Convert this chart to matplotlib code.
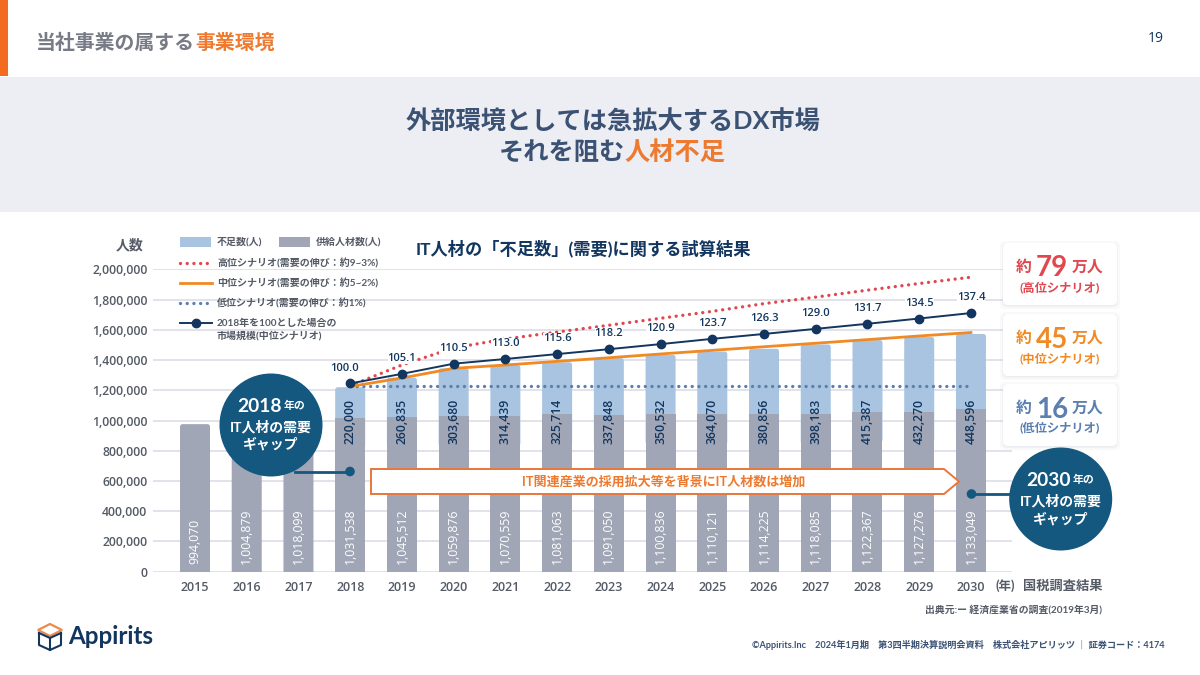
import matplotlib
matplotlib.use("Agg")
import matplotlib.pyplot as plt
from matplotlib.patches import Circle, FancyBboxPatch, Polygon, Rectangle

plt.rcParams['font.family'] = ['Lato', 'Noto Sans CJK JP']
NUM_FONT = ['Open Sans', 'DejaVu Sans']

# data
years = list(range(2015, 2031))
supply_labels = ["994,070", "1,004,879", "1,018,099", "1,031,538", "1,045,512", "1,059,876", "1,070,559", "1,081,063",
                 "1,091,050", "1,100,836", "1,110,121", "1,114,225", "1,118,085", "1,122,367", "1,127,276", "1,133,049"]
shortage_labels = ["220,000", "260,835", "303,680", "314,439", "325,714", "337,848", "350,532", "364,070",
                   "380,856", "398,183", "415,387", "432,270", "448,596"]
# bar heights as they are drawn in the picture (they sit a bit under the printed numbers)
supply_bar = [976000, 985000, 998000, 1017000, 1025000, 1030000, 1032000, 1041000,
              1038000, 1041000, 1041000, 1043000, 1043000, 1056000, 1059000, 1076000]
shortage_bar = [203000, 258000, 315000, 335000, 344000, 374000, 393000, 415000,
                431000, 460000, 476000, 493000, 496000]
line_years = years[3:]
high = [1230000, 1367000, 1480000, 1539000, 1585000, 1630000, 1676000, 1722000, 1773000, 1816000, 1862000, 1906000, 1948000]
mid = [1225000, 1281000, 1345000, 1367000, 1391000, 1415000, 1440000, 1464000, 1488000, 1511000, 1535000, 1559000, 1582000]
low = [1228000, 1228000, 1228000, 1228000, 1228000, 1228000, 1228000, 1228000, 1228000, 1228000, 1228000, 1228000, 1228000]
market = [100.0, 105.1, 110.5, 113.0, 115.6, 118.2, 120.9, 123.7, 126.3, 129.0, 131.7, 134.5, 137.4]
y_ticks = [0, 200000, 400000, 600000, 800000, 1000000, 1200000, 1400000, 1600000, 1800000, 2000000]

NAVY = '#12365F'
SLATE = '#3B5275'
ORANGE = '#EE7A30'
LINE_ORANGE = '#F08A24'
RED = '#E0474F'
BLUE = '#5B7FB0'
GREY_BAR = '#A0A6B6'
BLUE_BAR = '#A8C4E0'
GRID = '#DFE1E8'
TEXT = '#555B66'
TEAL = '#14577F'
DOTS = (0, (0.01, 2.0))

W, H = 1200, 675
fig = plt.figure(figsize=(12, 6.75), dpi=100, facecolor='white')


def full_axes(z):
    a = fig.add_axes([0, 0, 1, 1], zorder=z)
    a.set_xlim(0, W)
    a.set_ylim(H, 0)
    a.axis('off')
    return a


bg = full_axes(0)
top = full_axes(5)


def chain(a, x, y, parts, ha='left', gap=0):
    # draw text pieces one after another, parts = (text, size, color, weight)
    r = fig.canvas.get_renderer()
    items = []
    total = gap * (len(parts) - 1)
    for s, size, color, weight in parts:
        t = a.text(0, y, s, fontsize=size, color=color, fontweight=weight, va='center_baseline', ha='left')
        w = t.get_window_extent(r).width
        items.append((t, w))
        total += w
    pos = x
    if ha == 'center':
        pos = x - total / 2
    for t, w in items:
        t.set_x(pos)
        pos += w + gap


def round_tops(bars, ax, z):
    # swap the square bars for ones with slightly rounded top corners
    for b in bars:
        x, y = b.get_xy()
        p = FancyBboxPatch((x, y - 200000), b.get_width(), b.get_height() + 200000,
                           boxstyle="round,pad=0,rounding_size=0.05", mutation_aspect=342000,
                           facecolor=b.get_facecolor(), edgecolor='none', zorder=z)
        ax.add_patch(p)
        b.remove()


# page furniture
bg.add_patch(Rectangle((0, 0), 8, 76, color='#F26B21', lw=0))
bg.add_patch(Rectangle((0, 77), W, 135, color='#EDEEF3', lw=0))
chain(bg, 36, 41, [("当社事業の属する", 14.3, '#777B85', 'bold'), ("事業環境", 14.3, ORANGE, 'bold')])
bg.text(1156, 38, "19", fontsize=10, color=NAVY, ha='center', va='center', family=NUM_FONT)
chain(bg, 613, 120, [("外部環境としては急拡大するDX市場", 18.2, SLATE, 'bold')], ha='center')
chain(bg, 612, 150, [("それを阻む", 18.2, SLATE, 'bold'), ("人材不足", 18.2, ORANGE, 'bold')], ha='center')
bg.text(583, 248, "IT人材の「不足数」(需要)に関する試算結果", fontsize=12.4, color=NAVY, fontweight='bold',
        ha='center', va='center')
bg.text(130, 245, "人数", fontsize=10, color=TEXT, fontweight='bold', ha='center', va='center')

# chart
x0, x1, y0, y1 = 153, 1012, 571.7, 269.3
ax = fig.add_axes([x0 / W, 1 - y0 / H, (x1 - x0) / W, (y0 - y1) / H], zorder=2)
ax.patch.set_alpha(0)
ax.set_xlim(2015 - 42 / 51.73, 2015 + (x1 - 195) / 51.73)
ax.set_ylim(0, 2000000)
grey_bars = ax.bar(years, supply_bar, width=0.58, color=GREY_BAR, zorder=2.2)
blue_bars = ax.bar(line_years, shortage_bar, width=0.58, bottom=supply_bar[3:], color=BLUE_BAR, zorder=2)
round_tops(blue_bars, ax, 2)
round_tops(list(grey_bars)[:3], ax, 2.2)
ax.plot(line_years, low, color=BLUE, lw=2.4, linestyle=DOTS, dash_capstyle='round', zorder=3)
ax.plot(line_years, high, color=RED, lw=2.4, linestyle=DOTS, dash_capstyle='round', zorder=3)
ax.plot(line_years, mid, color=LINE_ORANGE, lw=2.0, zorder=3)
ax.set_yticks(y_ticks)
ax.set_yticklabels([f"{v:,}" for v in y_ticks])
ax.set_xticks(years)
ax.tick_params(axis='both', length=0, labelcolor=TEXT)
ax.tick_params(axis='y', labelsize=8.8, pad=4)
ax.tick_params(axis='x', labelsize=9, pad=7)
for lab in ax.get_xticklabels() + ax.get_yticklabels():
    lab.set_family(NUM_FONT)
    lab.set_fontweight('semibold')
ax.grid(axis='y', color=GRID, lw=1.3, zorder=1)
ax.set_axisbelow(True)
for s in ax.spines.values():
    s.set_visible(False)

for x, s in zip(years, supply_labels):
    ax.text(x, 54000, s, rotation=90, color='white', fontsize=8.8, ha='center', va='bottom', zorder=4,
            family=NUM_FONT)
for x, s in zip(line_years, shortage_labels):
    ax.text(x, 845000, s, rotation=90, color=NAVY, fontsize=8.8, ha='center', va='bottom', zorder=4,
            family=NUM_FONT, fontweight='semibold')

# market size index, own scale
ax2 = ax.twinx()
ax2.set_ylim(0, 2000000 / 12450)
ax2.axis('off')
ax2.plot(line_years, market, color=NAVY, lw=1.4, marker='o', ms=6, zorder=5)
for x, v in zip(line_years, market):
    dx = -4 if x == 2018 else 0
    ax2.annotate(f"{v:.1f}", (x, v), xytext=(dx, 11), textcoords='offset points', ha='center', va='center',
                 fontsize=8, color=NAVY, fontweight='semibold', family=NUM_FONT, zorder=6,
                 bbox=dict(facecolor='white', edgecolor='none', pad=0))

# legend
top.add_patch(Rectangle((180, 237), 31, 10, color=BLUE_BAR, lw=0))
top.add_patch(Rectangle((279, 237), 31, 10, color=GREY_BAR, lw=0))
top.text(217, 242, "不足数(人)", fontsize=7.2, color=TEXT, va='center', fontweight='bold')
top.text(316, 242, "供給人材数(人)", fontsize=7.2, color=TEXT, va='center', fontweight='bold')
top.plot([180, 212], [263, 263], color=RED, lw=2.4, linestyle=DOTS, dash_capstyle='round')
top.plot([180, 212], [283, 283], color=LINE_ORANGE, lw=2)
top.plot([180, 212], [303, 303], color=BLUE, lw=2.4, linestyle=DOTS, dash_capstyle='round')
top.plot([180, 212], [323, 323], color=NAVY, lw=1.4)
top.plot([196], [323], color=NAVY, marker='o', ms=6)
top.text(217, 263, "高位シナリオ(需要の伸び：約9~3%)", fontsize=7.2, color=TEXT, va='center', fontweight='bold')
top.text(217, 283, "中位シナリオ(需要の伸び：約5~2%)", fontsize=7.2, color=TEXT, va='center', fontweight='bold')
top.text(217, 303, "低位シナリオ(需要の伸び：約1%)", fontsize=7.2, color=TEXT, va='center', fontweight='bold')
top.text(217, 323, "2018年を100とした場合の", fontsize=7.2, color=TEXT, va='center', fontweight='bold')
top.text(217, 336, "市場規模(中位シナリオ)", fontsize=7.2, color=TEXT, va='center', fontweight='bold')

# banner
top.add_patch(Polygon([(371, 469), (944, 469), (959, 481.5), (944, 494), (371, 494)], closed=True,
                      facecolor='white', edgecolor='#E8773A', lw=1.4))
top.text(664, 481.5, "IT関連産業の採用拡大等を背景にIT人材数は増加", fontsize=9.4, color=ORANGE, fontweight='bold',
         ha='center', va='center')

# gap circles
top.plot([295, 350], [471.5, 471.5], color=TEAL, lw=2)
top.add_patch(Circle((350, 471.5), 4.8, color=TEAL, lw=0))
top.add_patch(Circle((271, 425), 51.5, color=TEAL, lw=0))
chain(top, 271, 405, [("2018", 13.8, 'white', 'bold'), ("年の", 7.8, 'white', 'bold')], ha='center', gap=2)
top.text(271, 427, "IT人材の需要", fontsize=10, color='white', fontweight='bold', ha='center', va='center')
top.text(271, 444, "ギャップ", fontsize=10, color='white', fontweight='bold', ha='center', va='center')

top.plot([971.5, 1020], [494, 494], color=TEAL, lw=2)
top.add_patch(Circle((971.5, 494), 4.8, color=TEAL, lw=0))
top.add_patch(Circle((1060.7, 499), 51.5, color=TEAL, lw=0))
chain(top, 1060.7, 479, [("2030", 13.8, 'white', 'bold'), ("年の", 7.8, 'white', 'bold')], ha='center', gap=2)
top.text(1060.7, 501, "IT人材の需要", fontsize=10, color='white', fontweight='bold', ha='center', va='center')
top.text(1060.7, 519, "ギャップ", fontsize=10, color='white', fontweight='bold', ha='center', va='center')

# scenario cards
cards = [(243, "79", "(高位シナリオ)", RED), (314, "45", "(中位シナリオ)", LINE_ORANGE), (384, "16", "(低位シナリオ)", BLUE)]
for cy, num, sub, col in cards:
    for grow, alpha in ((5, 0.05), (3, 0.07), (1.5, 0.10)):
        top.add_patch(FancyBboxPatch((1005 - grow, cy + 2 - grow + 1), 110 + 2 * grow, 58 + 2 * grow,
                                     boxstyle="round,pad=0,rounding_size=5", facecolor='#8A93B0', edgecolor='none',
                                     alpha=alpha))
    top.add_patch(FancyBboxPatch((1005, cy + 2), 110, 58, boxstyle="round,pad=0,rounding_size=3",
                                 facecolor='white', edgecolor='white', lw=3))
    chain(top, 1060, cy + 23, [("約", 11.4, col, 'bold'), (num, 20, col, 'bold'), ("万人", 11.4, col, 'bold')],
          ha='center', gap=4)
    top.text(1060, cy + 44, sub, fontsize=8.8, color=col, fontweight='bold', ha='center', va='center')

# notes under the chart
top.text(1005, 586, "(年)", fontsize=9, color=TEXT, fontweight='bold', ha='center', va='center')
top.text(1102, 586, "国税調査結果", fontsize=9.5, color=TEXT, fontweight='bold', ha='right', va='center')
top.text(1102, 610, "出典元:ー 経済産業省の調査(2019年3月)", fontsize=7.1, color=TEXT, fontweight='bold', ha='right', va='center')
top.text(1165, 645, "©Appirits.Inc　2024年1月期　第3四半期決算説明会資料　株式会社アピリッツ ｜ 証券コード：4174",
         fontsize=6.6, color=SLATE, fontweight='bold', ha='right', va='center')

# logo
cube_top = [(38, 630), (50, 624), (62, 630), (50, 636)]
top.add_patch(Polygon(cube_top, closed=True, fill=False, edgecolor='#E98A4E', lw=1.6))
top.plot([39, 39, 50, 61, 61], [633, 645, 650, 645, 633], color=NAVY, lw=1.5)
top.plot([39, 50, 50], [633, 638, 650], color=NAVY, lw=1.5)
top.plot([61, 50], [633, 638], color=NAVY, lw=1.5)
top.text(68, 637, "Appirits", fontsize=17.4, color=NAVY, fontweight='bold', ha='left', va='center')

fig.savefig("out.png", dpi=100)
